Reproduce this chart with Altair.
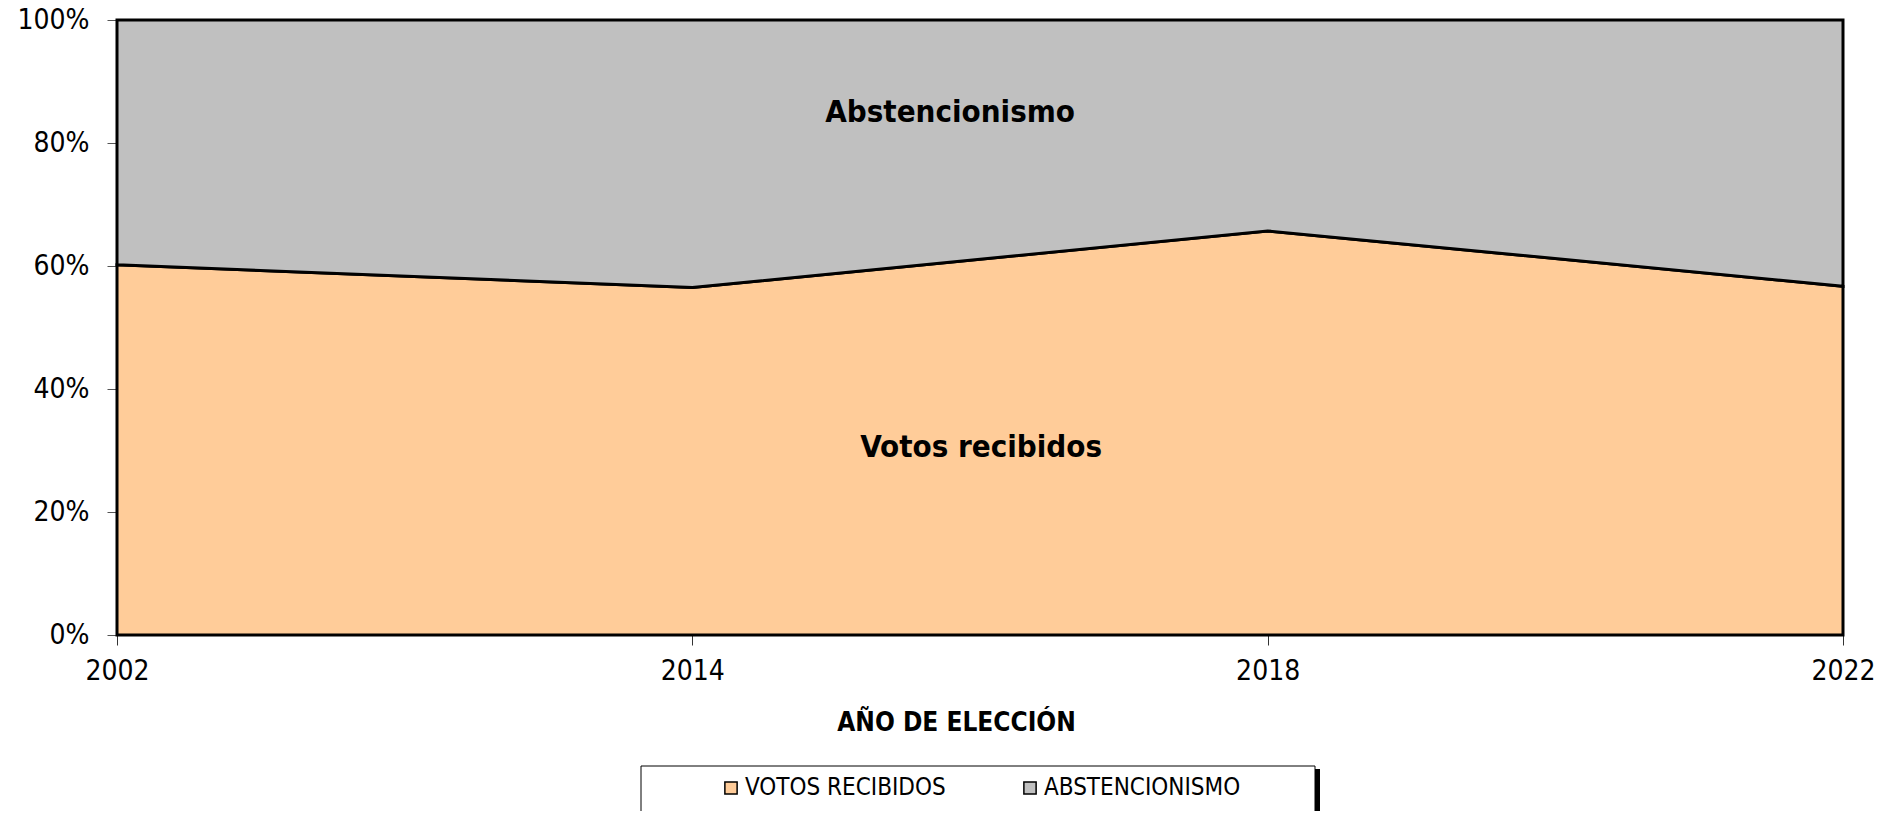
import json
import altair as alt
import pandas as pd

years = ["2002", "2014", "2018", "2022"]
votos = [0.602, 0.565, 0.657, 0.567]
abstencion = [0.398, 0.435, 0.343, 0.433]
series = ["VOTOS RECIBIDOS", "ABSTENCIONISMO"]
colors = ["#FFCC99", "#C0C0C0"]

ann_text = ["Abstencionismo", "Votos recibidos"]
ann_x = [1.448, 1.502]
ann_y = [0.849, 0.304]

FONT = "DejaVu Sans Condensed"

rows = []
for i, y in enumerate(years):
    rows.append({"idx": i, "year": y, "serie": series[0], "ord": 0, "value": votos[i]})
    rows.append({"idx": i, "year": y, "serie": series[1], "ord": 1, "value": abstencion[i]})
df = pd.DataFrame(rows)
ann = pd.DataFrame({"x": ann_x, "y": ann_y, "text": ann_text})
one = pd.DataFrame({"k": [0]})

label_expr = json.dumps(years) + "[datum.value]"

x_enc = alt.X(
    "idx:Q",
    scale=alt.Scale(domain=[0, 3], nice=False, zero=False),
    axis=alt.Axis(
        values=[0, 1, 2, 3], labelExpr=label_expr, title="AÑO DE ELECCIÓN",
        domain=False, grid=False, tickSize=10, tickColor="#333333", tickWidth=1,
        labelFontSize=28, labelPadding=12, labelColor="black", labelFont=FONT,
        labelFlush=False, labelOverlap=False,
        titleFontSize=26, titleFontWeight="bold", titleFont=FONT, titleColor="black",
        titleX=839, titleY=87, titleBaseline="middle",
    ),
)

area = alt.Chart(df).mark_area(stroke="black", strokeWidth=3, opacity=1).encode(
    x=x_enc,
    y=alt.Y(
        "value:Q", stack="zero",
        scale=alt.Scale(domain=[0, 1], nice=False),
        axis=alt.Axis(
            values=[0, 0.2, 0.4, 0.6, 0.8, 1.0], format=".0%", title=None,
            domain=False, grid=False, tickSize=10, tickColor="#555555", tickWidth=1,
            labelFontSize=28, labelPadding=18, labelColor="black", labelFont=FONT,
            labelFlush=False, labelOverlap=False,
        ),
    ),
    color=alt.Color(
        "serie:N",
        scale=alt.Scale(domain=series, range=colors),
        sort=series,
        legend=alt.Legend(
            title=None, orient="none", legendX=602, legendY=756,
            direction="horizontal", columnPadding=72, padding=0,
            symbolType="square", symbolSize=150, symbolStrokeColor="black",
            symbolStrokeWidth=1.5, symbolOpacity=1,
            labelFontSize=24, labelFont=FONT, labelColor="black", labelOffset=2,
            labelLimit=400,
        ),
    ),
    order=alt.Order("ord:Q"),
)

text = alt.Chart(ann).mark_text(
    fontWeight="bold", fontSize=31, font=FONT, color="black", baseline="middle", align="center"
).encode(x="x:Q", y="y:Q", text="text:N")

shadow = alt.Chart(one).mark_rect(fill="black", clip=False).encode(
    x=alt.value(529), x2=alt.value(1203), y=alt.value(749), y2=alt.value(795)
)
box = alt.Chart(one).mark_rect(fill="white", stroke="black", strokeWidth=1, clip=False).encode(
    x=alt.value(524), x2=alt.value(1198), y=alt.value(746), y2=alt.value(792)
)

chart = alt.layer(area, text, shadow, box).properties(
    width=1726, height=615,
    padding={"left": 109, "top": 12, "right": 38, "bottom": 176},
    autosize=alt.AutoSizeParams(type="none"),
).configure_view(stroke=None).configure(font=FONT)

chart.save("out.html", embed_options={"renderer": "svg", "actions": False})
